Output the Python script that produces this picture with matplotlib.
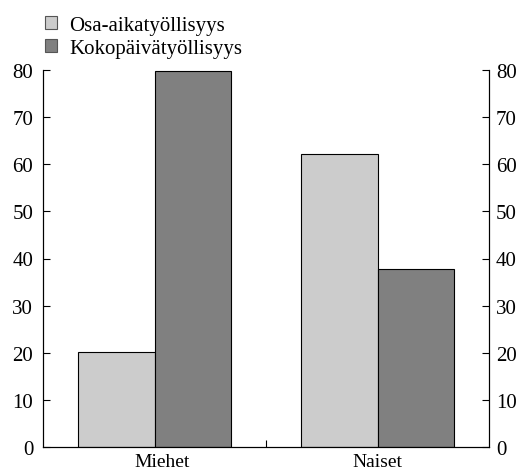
import matplotlib
matplotlib.use("Agg")
import matplotlib.pyplot as plt
import matplotlib.transforms as mtransforms
import numpy as np

categories = ["Miehet", "Naiset"]
series_names = ["Osa-aikatyöllisyys", "Kokopäivätyöllisyys"]
osa = [20.2, 62.2]
koko = [79.8, 37.8]
yticks = [0, 10, 20, 30, 40, 50, 60, 70, 80]

plt.rcParams['font.family'] = ['Liberation Serif', 'DejaVu Serif']
plt.rcParams['font.size'] = 15

fig = plt.figure(figsize=(5.28, 4.77), dpi=100)
ax = fig.add_axes([43/528, 1-448/477, (489-43)/528, (448-71)/477])
x = np.arange(len(categories))
w = 0.345
ax.bar(x - w/2, osa, w, color="#cccccc", edgecolor="black", linewidth=0.8, label=series_names[0])
ax.bar(x + w/2, koko, w, color="#808080", edgecolor="black", linewidth=0.8, label=series_names[1])
ax.set_xlim(-0.5, 1.5)
ax.set_ylim(0, 80)
ax.set_yticks(yticks)
ax.spines['top'].set_visible(False)
ax.tick_params(axis='y', direction='in', length=5, width=0.8, left=True, right=False,
               labelleft=True, labelright=False, pad=7)

ax2 = ax.twinx()
ax2.set_ylim(0, 80)
ax2.set_yticks(yticks)
ax2.spines['top'].set_visible(False)
ax2.tick_params(axis='y', direction='in', length=5, width=0.8, right=True, labelright=True, pad=5)
for s in ax2.spines.values():
    s.set_linewidth(0.8)

ax.set_xticks(x)
ax.set_xticklabels(categories)
ax.tick_params(axis='x', length=0, pad=4.5, labelsize=14)
ax.set_xticks([0.5], minor=True)
ax.tick_params(axis='x', which='minor', direction='in', length=5, width=0.8)
lbl = ax.get_xticklabels()[0]
lbl.set_transform(lbl.get_transform() + mtransforms.ScaledTranslation(8/100, 0, fig.dpi_scale_trans))
for s in ax.spines.values():
    s.set_linewidth(0.8)
leg = fig.legend(loc='upper left', bbox_to_anchor=(32/528, 1 - 4/477), frameon=False,
                 handlelength=0.6, handleheight=0.6, handletextpad=0.6, labelspacing=0.2,
                 borderaxespad=0.2)
for h in leg.legend_handles:
    h.set_edgecolor("#555555")
fig.savefig("out.png", dpi=100)
